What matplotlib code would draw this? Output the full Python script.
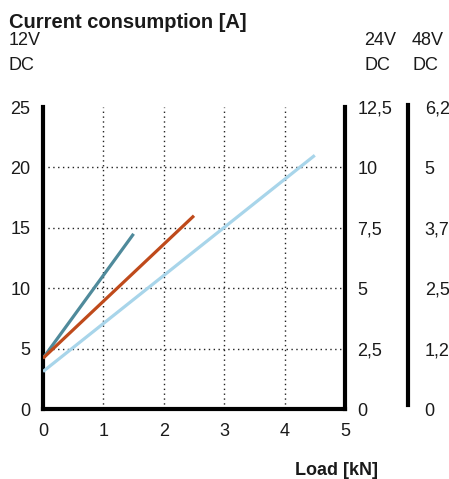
import matplotlib
matplotlib.use('Agg')
import matplotlib.pyplot as plt

plt.rcParams['font.family'] = ['Liberation Sans', 'DejaVu Sans']

# data (load in kN, current on the 12V scale)
load_ticks = [0, 1, 2, 3, 4, 5]
amp_12v_ticks = [0, 5, 10, 15, 20, 25]
amp_24v_labels = ['0', '2,5', '5', '7,5', '10', '12,5']
amp_48v_labels = ['0', '1,25', '2,5', '3,75', '5', '6,25']

load_teal = [0, 1.5]
amp_teal = [4.2, 14.5]
load_orange = [0, 2.5]
amp_orange = [4.2, 16.0]
load_light = [0, 4.5]
amp_light = [3.1, 21.0]

TXT = '#1a1a1a'
FS = 13

fig = plt.figure(figsize=(4.49, 4.79), dpi=100)
ax = fig.add_axes([43 / 449, 1 - 409 / 479, 302 / 449, 302 / 479])
ax.set_xlim(0, 5)
ax.set_ylim(0, 25)

# dotted grid, none on the open top edge
for x in load_ticks[1:-1]:
    ax.axvline(x, color='#222222', lw=1, ls=(0, (1, 2.5)), zorder=1)
for y in amp_12v_ticks[1:-1]:
    ax.axhline(y, color='#222222', lw=1, ls=(0, (1, 2.5)), zorder=1)

ax.plot(load_light, amp_light, color='#a8d5ea', lw=2.3, solid_capstyle='butt', zorder=3)
ax.plot(load_teal, amp_teal, color='#4f8a9b', lw=2.3, solid_capstyle='butt', zorder=4)
ax.plot(load_orange, amp_orange, color='#bf4a1b', lw=2.3, solid_capstyle='butt', zorder=5)

ax.set_xticks(load_ticks)
ax.set_yticks(amp_12v_ticks)
ax.tick_params(length=0, labelsize=FS, labelcolor=TXT)
ax.tick_params(axis='y', pad=9)
ax.tick_params(axis='x', pad=10)
ax.spines['top'].set_visible(False)
ax.spines['right'].set_visible(False)
for s in ['left', 'bottom']:
    ax.spines[s].set_linewidth(3)
    ax.spines[s].set_capstyle('projecting')

# 24V DC scale on the right edge of the plot
ax24 = ax.twinx()
ax24.set_ylim(0, 12.5)
ax24.set_yticks([0, 2.5, 5, 7.5, 10, 12.5])
ax24.set_yticklabels(amp_24v_labels)
for s in ['top', 'left', 'bottom']:
    ax24.spines[s].set_visible(False)
ax24.spines['right'].set_linewidth(3)
ax24.spines['right'].set_capstyle('projecting')
ax24.tick_params(length=0, labelsize=FS, labelcolor=TXT, pad=9)

# 48V DC scale, detached
ax48 = ax.twinx()
ax48.set_ylim(0, 6.25)
ax48.set_yticks([0, 1.25, 2.5, 3.75, 5, 6.25])
ax48.set_yticklabels(amp_48v_labels)
for s in ['top', 'left', 'bottom']:
    ax48.spines[s].set_visible(False)
ax48.spines['right'].set_position(('axes', (408 - 43) / 302))
ax48.spines['right'].set_linewidth(3)
ax48.spines['right'].set_bounds(0.08, 6.29)
ax48.tick_params(length=0, labelsize=FS, labelcolor=TXT, pad=12)

fig.text(9 / 449, 1 - 13 / 479, 'Current consumption [A]', fontsize=14.5, fontweight='bold',
         color=TXT, va='top', ha='left')
fig.text(9 / 449, 1 - 32 / 479, '12V\nDC', fontsize=FS, color=TXT, va='top', ha='left',
         linespacing=1.6)
fig.text(364 / 449, 1 - 32 / 479, '24V\nDC', fontsize=FS, color=TXT, va='top', ha='left',
         linespacing=1.6)
fig.text(412 / 449, 1 - 32 / 479, '48V\nDC', fontsize=FS, color=TXT, va='top', ha='left',
         linespacing=1.6)
fig.text(378 / 449, 1 - 479 / 479, 'Load [kN]', fontsize=FS, fontweight='bold',
         color=TXT, va='bottom', ha='right')

fig.savefig('out.png', dpi=100)
